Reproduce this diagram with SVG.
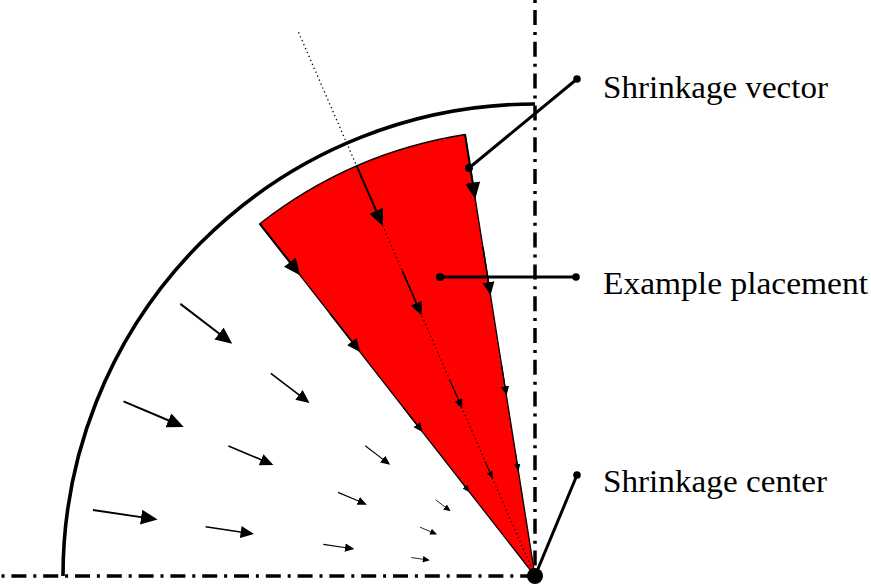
<svg xmlns="http://www.w3.org/2000/svg" width="871" height="585" viewBox="0 0 871 585">
<style>
.axis{fill:none;stroke:#000;stroke-width:3.5;stroke-dasharray:15 6.9 3 6.9}
.vec{fill:none;stroke:#000;marker-end:url(#ah)}
.v1{stroke-width:2}
.v2{stroke-width:1.6}
.v3{stroke-width:1.13}
.v4{stroke-width:0.85}
.lead{fill:none;stroke:#000;stroke-width:3}
.lbl{font-family:"Liberation Serif","Times New Roman",serif;font-size:32px;fill:#000}
</style>
<defs>
<marker id="ah" viewBox="0 0 10 9" refX="1" refY="4.5" markerWidth="8.4" markerHeight="7.5" orient="auto" markerUnits="strokeWidth">
<path d="M0,0 L10,4.5 L0,9 z" fill="#000"/>
</marker>
</defs>
<rect width="871" height="585" fill="#fff"/>
<g id="outer-boundary">
<path d="M63,576 A472,472 0 0,1 535,104" fill="none" stroke="#000" stroke-width="3.6"/>
</g>
<g id="axes">
<line class="axis" x1="535" y1="0" x2="535" y2="576" stroke-dashoffset="21.8"/>
<line class="axis" x1="0" y1="576" x2="535" y2="576" stroke-dashoffset="20.4"/>
</g>
<g id="placement">
<path d="M535,576 L465.08,134.5 A447,447 0 0,0 259.8,223.76 Z" fill="#ff0000" stroke="#000" stroke-width="1.3" stroke-linejoin="round"/>
<line x1="298.5" y1="32.2" x2="535" y2="576" stroke="#000" stroke-width="1.3" stroke-dasharray="1.3 3"/>
</g>
<g id="connectors">
<line class="vec v1" x1="465.08" y1="134.5" x2="472.96" y2="184.28"/>
<line class="vec v2" x1="482.91" y1="247.1" x2="488.66" y2="283.45"/>
<line class="vec v3" x1="501.52" y1="364.63" x2="505.11" y2="387.25"/>
<line class="vec v4" x1="515.45" y1="452.54" x2="517.37" y2="464.69"/>
<line class="vec v1" x1="356.76" y1="166.07" x2="376.86" y2="212.29"/>
<line class="vec v2" x1="402.22" y1="270.62" x2="416.89" y2="304.37"/>
<line class="vec v3" x1="449.67" y1="379.75" x2="458.8" y2="400.75"/>
<line class="vec v4" x1="485.16" y1="461.37" x2="490.06" y2="472.65"/>
<line class="vec v1" x1="259.8" y1="223.76" x2="290.83" y2="263.48"/>
<line class="vec v2" x1="329.99" y1="313.59" x2="352.64" y2="342.59"/>
<line class="vec v3" x1="403.25" y1="407.37" x2="417.35" y2="425.41"/>
<line class="vec v4" x1="458.04" y1="477.5" x2="465.61" y2="487.19"/>
<line class="vec v1" x1="180.37" y1="303.88" x2="220.36" y2="334.57"/>
<line class="vec v2" x1="270.81" y1="373.28" x2="300.01" y2="395.69"/>
<line class="vec v3" x1="365.22" y1="445.73" x2="383.39" y2="459.67"/>
<line class="vec v4" x1="435.83" y1="499.9" x2="445.59" y2="507.39"/>
<line class="vec v1" x1="123.54" y1="401.34" x2="169.93" y2="421.04"/>
<line class="vec v2" x1="228.47" y1="445.89" x2="262.35" y2="460.27"/>
<line class="vec v3" x1="338.01" y1="492.38" x2="359.09" y2="501.33"/>
<line class="vec v4" x1="419.94" y1="527.16" x2="431.26" y2="531.96"/>
<line class="vec v1" x1="92.91" y1="509.93" x2="142.75" y2="517.38"/>
<line class="vec v2" x1="205.66" y1="526.78" x2="242.05" y2="532.22"/>
<line class="vec v3" x1="323.35" y1="544.37" x2="346" y2="547.75"/>
<line class="vec v4" x1="411.37" y1="557.52" x2="423.54" y2="559.34"/>
</g>
<g id="label-shrinkage-vector">
<line class="lead" x1="577" y1="79" x2="469" y2="168"/>
<circle cx="577" cy="79" r="3.8"/>
<circle cx="469" cy="168" r="4"/>
<text class="lbl" x="603" y="98" textLength="225" lengthAdjust="spacingAndGlyphs">Shrinkage vector</text>
</g>
<g id="label-example-placement">
<line class="lead" x1="440" y1="277" x2="576" y2="277"/>
<circle cx="440" cy="277" r="4"/>
<circle cx="576" cy="277" r="3.8"/>
<text class="lbl" x="603" y="294" textLength="265" lengthAdjust="spacingAndGlyphs">Example placement</text>
</g>
<g id="label-shrinkage-center">
<line class="lead" x1="535" y1="576" x2="577" y2="475"/>
<circle cx="577" cy="475" r="3.8"/>
<circle cx="535" cy="576" r="8"/>
<text class="lbl" x="603" y="492" textLength="224" lengthAdjust="spacingAndGlyphs">Shrinkage center</text>
</g>
</svg>
